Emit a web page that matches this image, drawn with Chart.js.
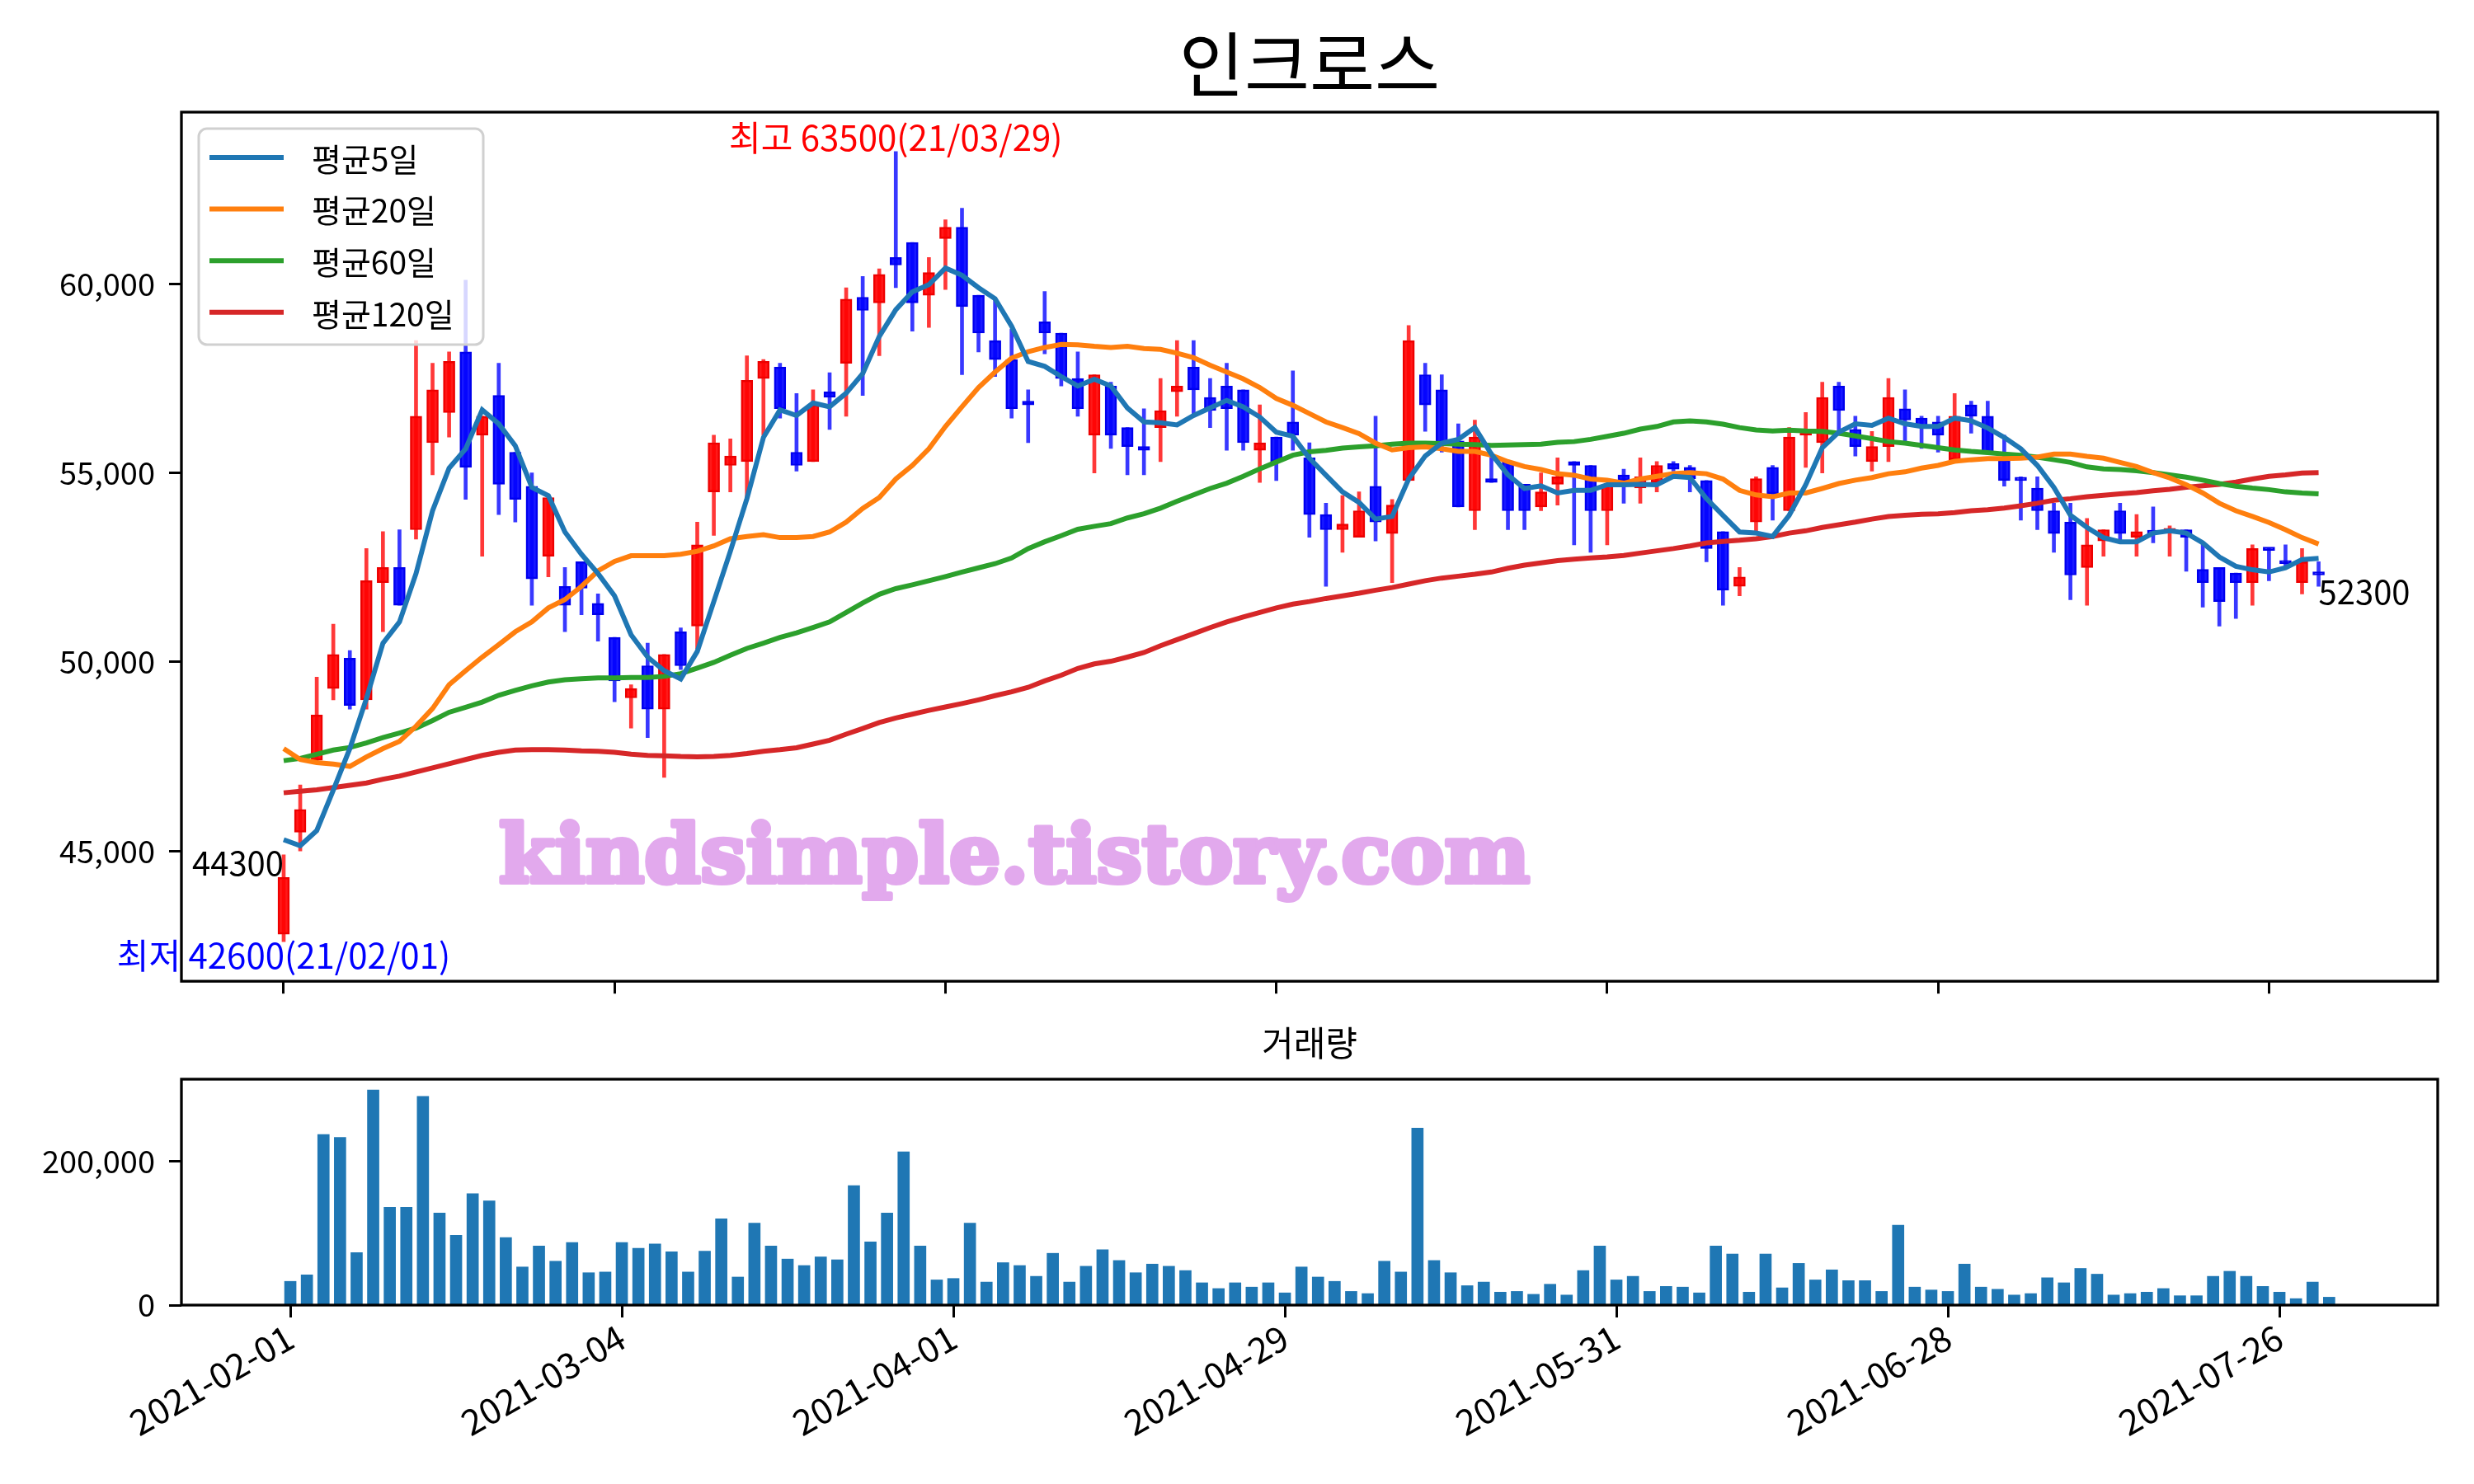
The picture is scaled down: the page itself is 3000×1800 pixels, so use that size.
<!DOCTYPE html>
<html>
<head>
<meta charset="utf-8">
<script src="https://cdn.jsdelivr.net/npm/chart.js@4.4.0/dist/chart.umd.min.js"></script>
<style>
  body { margin: 0; background: #fff; }
  #wrap { position: relative; width: 3000px; height: 1800px; background: #fff; }
  #priceChart { position: absolute; left: 0; top: 0; }
  #volumeChart { position: absolute; left: 0; top: 1230px; }
</style>
</head>
<body>
<div id="wrap">
  <canvas id="priceChart" width="3000" height="1230"></canvas>
  <canvas id="volumeChart" width="3000" height="570"></canvas>
</div>
<script>
var stockName = '인크로스';
var volumeTitle = '거래량';

// x ticks every 20 trading days
var tickPositions = [0, 20, 40, 60, 80, 100, 120];
var tickLabels = ['2021-02-01', '2021-03-04', '2021-04-01', '2021-04-29', '2021-05-31', '2021-06-28', '2021-07-26'];
var priceTicks = [45000, 50000, 55000, 60000];
var volumeTicks = [0, 200000];

var opens = [42800, 45500, 47400, 49300, 50100, 49000, 52100, 52500, 53500, 55800,
    56600, 58200, 56000, 57050, 55550, 54650, 52800, 52000, 52650, 51550,
    50650, 49050, 49900, 48750, 50800, 50950, 54500, 55200, 55300, 57500,
    57800, 55550, 55300, 57150, 57900, 59650, 59500, 60700, 61100, 59700,
    61200, 61500, 59700, 58500, 58000, 56900, 59000, 58700, 57500, 56000,
    57300, 56200, 55700, 56200, 57150, 57800, 57000, 57300, 57200, 55600,
    55950, 56350, 55400, 53900, 53500, 53300, 54650, 53400, 54800, 57600,
    57200, 55850, 54000, 54850, 55300, 54700, 54100, 54700, 55300, 55200,
    54000, 54950, 54600, 54750, 55250, 55150, 54800, 53450, 52000, 53700,
    55150, 54000, 56000, 55800, 57300, 56150, 55300, 55700, 56700, 56450,
    56350, 55350, 56800, 56500, 55350, 54850, 54600, 54000, 53700, 52500,
    53200, 54000, 53300, 53450, 53450, 53500, 52450, 52500, 52350, 52100,
    53000, 52650, 52100, 52350];
var highs = [44900, 46750, 49600, 51000, 50300, 53000, 53450, 53500, 58500, 57900,
    58200, 60100, 56500, 57900, 55550, 55000, 54350, 52500, 52650, 51800,
    50650, 49400, 50500, 50200, 50900, 53700, 56000, 55900, 58100, 58000,
    57900, 57100, 57200, 57650, 59900, 60200, 60400, 63500, 61100, 60700,
    61700, 62000, 59700, 59600, 58800, 57200, 59800, 58700, 58200, 57600,
    57400, 56200, 56700, 57500, 58500, 58500, 57500, 57900, 57200, 56800,
    55950, 57700, 55800, 54200, 54400, 54500, 56500, 54300, 58900, 57900,
    57600, 56300, 56400, 55550, 55300, 54700, 55000, 55400, 55300, 55200,
    54700, 55100, 55400, 55300, 55300, 55200, 54800, 53450, 52500, 54900,
    55200, 56200, 56600, 57400, 57400, 56500, 56100, 57500, 57200, 56500,
    56500, 57100, 56900, 56900, 56000, 54900, 54900, 54200, 54200, 53800,
    53500, 54200, 53900, 54100, 53600, 53500, 53150, 52500, 52350, 53100,
    53000, 53100, 53000, 52650];
var lows = [42600, 45000, 47300, 49000, 48750, 48750, 50800, 51500, 53250, 54950,
    55950, 54300, 52800, 53900, 53700, 51500, 52250, 50800, 51250, 50550,
    48950, 48250, 48000, 46950, 49800, 50350, 53350, 54500, 54300, 56000,
    56450, 55050, 55300, 56150, 56500, 57050, 58100, 59900, 58750, 58850,
    59850, 57600, 58200, 57550, 56450, 55800, 58150, 57300, 56500, 55000,
    55650, 54950, 54950, 55300, 56500, 56500, 56200, 55600, 55600, 54750,
    54800, 55600, 53300, 52000, 52900, 53300, 53200, 52100, 54800, 56100,
    55550, 54100, 53500, 54750, 53500, 53500, 54000, 54150, 53100, 52900,
    53100, 54200, 54200, 54500, 55050, 54500, 52650, 51500, 51750, 53400,
    53750, 54000, 55150, 55000, 56000, 55450, 55050, 55300, 55850, 55650,
    55550, 55350, 56050, 55550, 54650, 53750, 53500, 52900, 51650, 51500,
    52800, 53200, 52800, 53150, 52800, 52400, 51450, 50950, 51150, 51500,
    52150, 52550, 51800, 52000];
var closes = [44300, 46100, 48600, 50200, 48850, 52150, 52500, 51500, 56500, 57200,
    57950, 55150, 56500, 54700, 54300, 52200, 54350, 51500, 51950, 51250,
    49500, 49300, 48750, 50200, 49900, 53100, 55800, 55450, 57450, 57950,
    56700, 55200, 56800, 57000, 59600, 59300, 60250, 60500, 59500, 60300,
    61500, 59400, 58700, 58000, 56700, 56800, 58700, 57500, 56700, 57600,
    56000, 55700, 55600, 56650, 57300, 57200, 56650, 56700, 55800, 55800,
    55300, 56000, 53900, 53500, 53650, 54000, 53700, 54150, 58500, 56800,
    55800, 54100, 55950, 54750, 54000, 54000, 54500, 54900, 55200, 54000,
    54700, 54800, 54900, 55200, 55100, 54850, 53000, 51900, 52250, 54850,
    54450, 55950, 56100, 57000, 56650, 55700, 55700, 57000, 56400, 56200,
    56000, 56500, 56500, 55550, 54800, 54800, 54000, 53400, 52300, 53100,
    53500, 53400, 53450, 53400, 53500, 53300, 52100, 51600, 52100, 53000,
    52950, 52600, 52650, 52300];

var ma5 = [45300, 45140, 45540, 46610, 47710, 49030, 50500, 51060, 52340, 54000,
    55130, 55640, 56670, 56300, 55720, 54620, 54400, 53440, 52850, 52340,
    51750, 50720, 50130, 49770, 49550, 50280, 51600, 52930, 54320, 55940,
    56670, 56520, 56850, 56750, 57110, 57630, 58610, 59320, 59790, 59980,
    60420, 60230, 59900, 59610, 58880, 57950, 57820, 57550, 57300, 57480,
    57300, 56720, 56350, 56330, 56270, 56520, 56720, 56920, 56750, 56480,
    56080, 55970, 55390, 54940, 54500, 54220, 53780, 53850, 54840, 55450,
    55790, 55890, 56200, 55500, 54950, 54590, 54660, 54470, 54540, 54540,
    54690, 54690, 54700, 54690, 54910, 54880, 54320, 53880, 53440, 53410,
    53320, 53880, 54690, 55670, 56080, 56300, 56260, 56450, 56300, 56230,
    56230, 56450, 56380, 56190, 55940, 55640, 55200, 54620, 53880, 53560,
    53290, 53180, 53180, 53410, 53470, 53410, 53150, 52780, 52530, 52440,
    52380, 52490, 52710, 52740];
var ma20 = [47710, 47420, 47340, 47300, 47240, 47490, 47710, 47900, 48300, 48770,
    49400, 49770, 50130, 50460, 50800, 51060, 51430, 51650, 52000, 52410,
    52660, 52810, 52810, 52810, 52850, 52930, 53070, 53260, 53320, 53370,
    53290, 53290, 53320, 53440, 53700, 54060, 54350, 54840, 55200, 55640,
    56230, 56750, 57260, 57670, 58040, 58210, 58320, 58400, 58390, 58350,
    58320, 58350, 58290, 58270, 58170, 58050, 57850, 57670, 57490, 57260,
    56970, 56790, 56570, 56350, 56200, 56040, 55790, 55610, 55670, 55690,
    55640, 55570, 55570, 55470, 55300, 55170, 55090, 54980, 54940, 54840,
    54810, 54730, 54840, 54910, 54980, 55010, 54980, 54840, 54540, 54420,
    54370, 54470, 54470, 54590, 54720, 54810, 54880, 54980, 55030, 55130,
    55200, 55310, 55350, 55380, 55380, 55390, 55420, 55500, 55500, 55440,
    55390, 55280, 55170, 55010, 54870, 54690, 54470, 54200, 54000, 53850,
    53690, 53500, 53290, 53120];
var ma60 = [47390, 47450, 47560, 47670, 47740, 47860, 48000, 48120, 48250, 48450,
    48670, 48800, 48940, 49120, 49250, 49370, 49470, 49530, 49560, 49580,
    49580, 49590, 49590, 49620, 49690, 49840, 49990, 50180, 50360, 50500,
    50650, 50770, 50910, 51060, 51310, 51560, 51790, 51940, 52040, 52150,
    52260, 52380, 52490, 52600, 52750, 53000, 53180, 53340, 53510, 53590,
    53660, 53810, 53920, 54070, 54250, 54420, 54590, 54730, 54910, 55110,
    55290, 55470, 55560, 55600, 55660, 55690, 55720, 55760, 55790, 55790,
    55780, 55760, 55750, 55730, 55740, 55750, 55760, 55810, 55830, 55890,
    55970, 56050, 56160, 56230, 56350, 56380, 56350, 56290, 56200, 56140,
    56110, 56130, 56110, 56100, 56050, 55980, 55910, 55830, 55790, 55730,
    55670, 55610, 55570, 55540, 55500, 55470, 55420, 55350, 55280, 55160,
    55110, 55090, 55060, 55010, 54950, 54890, 54810, 54720, 54650, 54600,
    54560, 54500, 54470, 54450];
var ma120 = [46540, 46580, 46620, 46680, 46740, 46800, 46900, 46980, 47090, 47200,
    47310, 47420, 47530, 47610, 47670, 47680, 47680, 47670, 47650, 47640,
    47610, 47560, 47530, 47520, 47500, 47490, 47500, 47530, 47580, 47640,
    47680, 47730, 47830, 47930, 48090, 48240, 48400, 48520, 48620, 48720,
    48810, 48900, 49000, 49110, 49210, 49330, 49500, 49650, 49830, 49950,
    50020, 50130, 50250, 50430, 50590, 50750, 50910, 51060, 51190, 51310,
    51430, 51530, 51600, 51680, 51750, 51820, 51900, 51970, 52060, 52150,
    52220, 52270, 52320, 52380, 52480, 52560, 52620, 52680, 52720, 52750,
    52780, 52820, 52880, 52940, 53000, 53070, 53150, 53190, 53220, 53260,
    53320, 53410, 53470, 53560, 53630, 53700, 53780, 53850, 53880, 53910,
    53920, 53950, 54000, 54030, 54070, 54130, 54200, 54280, 54320, 54370,
    54410, 54450, 54480, 54530, 54570, 54620, 54660, 54700, 54760, 54840,
    54910, 54950, 55000, 55010];

var volumes = [33000, 42000, 237000, 233000, 73000, 299000, 136000, 136000, 290000, 128000,
    97000, 155000, 145000, 94000, 53000, 82000, 61000, 87000, 45000, 46000,
    87000, 79000, 85000, 74000, 46000, 75000, 120000, 39000, 114000, 82000,
    64000, 55000, 67000, 63000, 166000, 88000, 128000, 213000, 82000, 35000,
    37000, 114000, 32000, 59000, 55000, 40000, 72000, 32000, 54000, 77000,
    62000, 45000, 57000, 54000, 48000, 31000, 23000, 31000, 25000, 31000,
    17000, 53000, 39000, 33000, 19000, 16000, 61000, 46000, 246000, 62000,
    45000, 27000, 32000, 18000, 19000, 15000, 29000, 14000, 48000, 82000,
    35000, 40000, 19000, 26000, 25000, 17000, 82000, 71000, 18000, 71000,
    24000, 58000, 35000, 49000, 34000, 34000, 19000, 111000, 25000, 21000,
    19000, 57000, 25000, 22000, 14000, 16000, 38000, 31000, 51000, 43000,
    14000, 16000, 18000, 23000, 13000, 13000, 40000, 47000, 40000, 26000,
    18000, 9000, 32000, 11000];

var highNote = { idx: 37, value: 63500, text: '최고 63500(21/03/29)' };
var lowNote = { idx: 0, value: 42600, text: '최저 42600(21/02/01)' };

Chart.defaults.font.family = "'Noto Sans CJK KR', 'Noto Sans', sans-serif";
Chart.defaults.font.size = 38;
Chart.defaults.color = '#000';

var upFill = 'rgba(255,0,0,0.9)', downFill = 'rgba(0,0,255,0.9)';
var upLine = 'rgb(235,0,0)', downLine = 'rgb(0,0,235)';
var upWick = 'rgba(255,0,0,0.78)', downWick = 'rgba(0,0,255,0.78)';

function isUp(i) { return closes[i] >= opens[i]; }

function points(arr) {
    return arr.map(function (v, i) { return { x: i, y: v }; });
}

function maDataset(label, arr, color) {
    return {
        type: 'line', label: label, data: points(arr),
        borderColor: color, backgroundColor: color, borderWidth: 6,
        pointRadius: 0, tension: 0, order: 0
    };
}

var bodies = opens.map(function (o, i) { return { x: i, y: [o, closes[i]] }; });
var wicks = lows.map(function (l, i) { return { x: i, y: [l, highs[i]] }; });

function tickMarks() {
    return { drawOnChartArea: false, drawTicks: true, tickLength: 15, tickWidth: 3, tickColor: '#000', offset: false };
}

function xAxis(min, max, showLabels, height) {
    return {
        type: 'linear', min: min, max: max, offset: false,
        grid: tickMarks(),
        border: { display: false },
        afterBuildTicks: function (scale) {
            scale.ticks = tickPositions.map(function (v) { return { value: v }; });
        },
        afterFit: function (scale) { scale.height = height; },
        ticks: {
            display: showLabels, autoSkip: false, minRotation: 30, maxRotation: 30, padding: -2,
            font: { size: 43 },
            callback: function (value, index) { return tickLabels[index]; }
        }
    };
}

function yAxis(min, max, values) {
    return {
        type: 'linear', min: min, max: max,
        grid: tickMarks(),
        border: { display: false },
        afterBuildTicks: function (scale) {
            scale.ticks = values.map(function (v) { return { value: v }; });
        },
        afterFit: function (scale) { scale.width = 220; },
        ticks: {
            padding: 17,
            callback: function (value) { return value.toLocaleString('en-US'); }
        }
    };
}

var frame = {
    id: 'frame',
    afterDraw: function (chart) {
        var a = chart.chartArea, ctx = chart.ctx;
        ctx.save();
        ctx.strokeStyle = '#000';
        ctx.lineWidth = 3.3;
        ctx.strokeRect(a.left, a.top, a.right - a.left, a.bottom - a.top);
        ctx.restore();
    }
};

var priceDecor = {
    id: 'priceDecor',
    beforeDatasetsDraw: function (chart) {
        var ctx = chart.ctx;
        // watermark
        ctx.save();
        var text = 'kindsimple.tistory.com';
        ctx.font = 'bold 91px "DejaVu Serif"';
        var size = 91 * 1250 / ctx.measureText(text).width;
        ctx.font = 'bold ' + size + 'px "DejaVu Serif"';
        ctx.fillStyle = '#e2a9ed';
        ctx.strokeStyle = '#e2a9ed';
        ctx.lineWidth = 6;
        ctx.lineJoin = 'round';
        ctx.textAlign = 'center';
        ctx.textBaseline = 'alphabetic';
        ctx.strokeText(text, 1230, 1070);
        ctx.fillText(text, 1230, 1070);
        ctx.restore();
    },
    afterDatasetsDraw: function (chart) {
        var ctx = chart.ctx, x = chart.scales.x, y = chart.scales.y, a = chart.chartArea;
        ctx.save();
        ctx.font = "42px 'Noto Sans CJK KR'";
        ctx.textAlign = 'center';
        ctx.fillStyle = '#ff0000';
        ctx.textBaseline = 'bottom';
        ctx.fillText(highNote.text, x.getPixelForValue(highNote.idx), y.getPixelForValue(highNote.value) + 4);
        ctx.fillStyle = '#0000ff';
        ctx.textBaseline = 'top';
        ctx.fillText(lowNote.text, x.getPixelForValue(lowNote.idx), y.getPixelForValue(lowNote.value) - 4);

        ctx.font = "40px 'Noto Sans CJK KR'";
        ctx.fillStyle = '#000';
        ctx.textAlign = 'right';
        ctx.textBaseline = 'alphabetic';
        ctx.fillText(String(closes[0]), x.getPixelForValue(0), y.getPixelForValue(closes[0]) - 2);
        var last = closes.length - 1;
        ctx.textAlign = 'left';
        ctx.textBaseline = 'top';
        ctx.fillText(String(closes[last]), x.getPixelForValue(last), y.getPixelForValue(closes[last]));

        // legend
        var lines = chart.data.datasets.filter(function (d) { return d.type === 'line'; });
        ctx.beginPath();
        ctx.roundRect(241, 156, 345, 262, 10);
        ctx.fillStyle = 'rgba(255,255,255,0.8)';
        ctx.fill();
        ctx.strokeStyle = '#d0d0d0';
        ctx.lineWidth = 3;
        ctx.stroke();
        ctx.font = "39px 'Noto Sans CJK KR'";
        ctx.textAlign = 'left';
        ctx.textBaseline = 'middle';
        lines.forEach(function (d, k) {
            var ly = 191 + k * 62.6;
            ctx.strokeStyle = d.borderColor;
            ctx.lineWidth = 6;
            ctx.beginPath();
            ctx.moveTo(254, ly);
            ctx.lineTo(344, ly);
            ctx.stroke();
            ctx.fillStyle = '#000';
            ctx.fillText(d.label, 378, ly + 2);
        });

        // title
        ctx.font = "86px 'Noto Sans CJK KR'";
        ctx.textAlign = 'center';
        ctx.textBaseline = 'middle';
        ctx.fillText(stockName, (a.left + a.right) / 2, 78);
        ctx.restore();
    }
};

new Chart(document.getElementById('priceChart').getContext('2d'), {
    type: 'bar',
    data: {
        datasets: [
            maDataset('평균5일', ma5, '#1f77b4'),
            maDataset('평균20일', ma20, '#ff7f0e'),
            maDataset('평균60일', ma60, '#2ca02c'),
            maDataset('평균120일', ma120, '#d62728'),
            {
                type: 'bar', label: 'body', data: bodies, order: 1, grouped: false,
                barThickness: 14, minBarLength: 4, borderWidth: 2, borderSkipped: false,
                backgroundColor: opens.map(function (o, i) { return isUp(i) ? upFill : downFill; }),
                borderColor: opens.map(function (o, i) { return isUp(i) ? upLine : downLine; })
            },
            {
                type: 'bar', label: 'wick', data: wicks, order: 2, grouped: false,
                barThickness: 4, borderWidth: 0,
                backgroundColor: opens.map(function (o, i) { return isUp(i) ? upWick : downWick; })
            }
        ]
    },
    options: {
        responsive: false, animation: false, events: [],
        layout: { padding: { top: 136, right: 44, left: 0, bottom: 0 } },
        plugins: { legend: { display: false }, tooltip: { enabled: false } },
        scales: {
            x: xAxis(-6.18, 130.2, false, 37),
            y: yAxis(41555, 64545, priceTicks)
        }
    },
    plugins: [priceDecor, frame]
});

var volumeDecor = {
    id: 'volumeDecor',
    afterDraw: function (chart) {
        var ctx = chart.ctx, a = chart.chartArea;
        ctx.save();
        ctx.font = "42px 'Noto Sans CJK KR'";
        ctx.textAlign = 'center';
        ctx.textBaseline = 'middle';
        ctx.fillStyle = '#000';
        ctx.fillText(volumeTitle, (a.left + a.right) / 2, 35);
        ctx.restore();
    }
};

new Chart(document.getElementById('volumeChart').getContext('2d'), {
    type: 'bar',
    data: {
        datasets: [{
            label: volumeTitle, data: points(volumes), grouped: false,
            barThickness: 14, backgroundColor: '#1f77b4', borderWidth: 0
        }]
    },
    options: {
        responsive: false, animation: false, events: [],
        layout: { padding: { top: 79, right: 44, left: 0, bottom: 0 } },
        plugins: { legend: { display: false }, tooltip: { enabled: false } },
        scales: {
            x: xAxis(-6.57, 129.55, true, 217),
            y: yAxis(0, 314000, volumeTicks)
        }
    },
    plugins: [volumeDecor, frame]
});
</script>
</body>
</html>
